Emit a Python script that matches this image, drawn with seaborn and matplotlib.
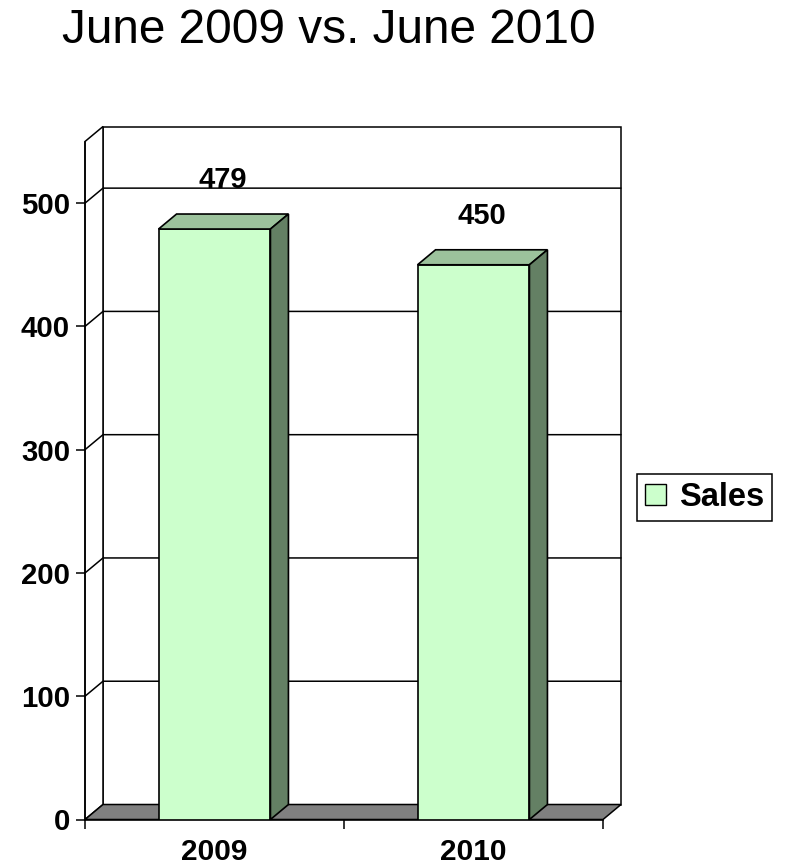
import matplotlib
matplotlib.use('Agg')
import matplotlib.pyplot as plt
from matplotlib.patches import Polygon, Patch
import seaborn as sns
import pandas as pd

# ---- data ----
years = ['2009', '2010']
sales = [479, 450]
y_ticks = [0, 100, 200, 300, 400, 500]
title = 'June 2009 vs. June 2010'
series_name = 'Sales'

sns.set_style('white')
plt.rcParams['font.family'] = ['Liberation Sans', 'DejaVu Sans']
plt.rcParams['text.color'] = 'black'
plt.rcParams['xtick.color'] = 'black'
plt.rcParams['ytick.color'] = 'black'
plt.rcParams['axes.labelcolor'] = 'black'

W, H = 786, 868
fig = plt.figure(figsize=(W / 100, H / 100), dpi=100)
ax = fig.add_axes([85 / W, 1 - 819.5 / H, 518 / W, 678 / H])

front_c = '#CCFFCC'
top_c = '#9CC29C'
side_c = '#648064'
floor_c = '#808080'

df = pd.DataFrame({'Year': years, 'Sales': sales})
sns.barplot(data=df, x='Year', y='Sales', color=front_c, saturation=1,
            width=0.432, edgecolor='black', linewidth=1.2, ax=ax, zorder=3)
bars = list(ax.patches)

YMAX = 550
ax.set_xlim(-0.5, 1.5)
ax.set_ylim(0, YMAX)

# depth of the 3-D effect expressed in data units (18 px right, 15 px up)
dx = 18 / (518 / 2)
dy = 15 / (678 / YMAX)
x0, x1 = -0.5, 1.5

# walls and floor
ax.add_patch(Polygon([(x0 + dx, dy), (x1 + dx, dy), (x1 + dx, YMAX + dy), (x0 + dx, YMAX + dy)],
                     closed=True, fc='white', ec='black', lw=1.1, zorder=0.5, clip_on=False))
ax.add_patch(Polygon([(x0, 0), (x0 + dx, dy), (x0 + dx, YMAX + dy), (x0, YMAX)],
                     closed=True, fc='white', ec='black', lw=1.1, zorder=0.6, clip_on=False))
for v in y_ticks[1:]:
    ax.plot([x0, x0 + dx, x1 + dx], [v, v + dy, v + dy], color='black', lw=1.1,
            zorder=0.8, clip_on=False)
ax.add_patch(Polygon([(x0, 0), (x1, 0), (x1 + dx, dy), (x0 + dx, dy)],
                     closed=True, fc=floor_c, ec='black', lw=1.1, zorder=1, clip_on=False))

# 3-D faces of bars and value labels
for bar, v in zip(bars, sales):
    bx, bw, h = bar.get_x(), bar.get_width(), bar.get_height()
    ax.add_patch(Polygon([(bx, h), (bx + bw, h), (bx + bw + dx, h + dy), (bx + dx, h + dy)],
                         closed=True, fc=top_c, ec='black', lw=1.2, zorder=3, clip_on=False))
    ax.add_patch(Polygon([(bx + bw, 0), (bx + bw + dx, dy), (bx + bw + dx, h + dy), (bx + bw, h)],
                         closed=True, fc=side_c, ec='black', lw=1.2, zorder=3, clip_on=False))
    ax.annotate(f'{v}', xy=(bx + bw / 2 + dx * 0.45, h + dy), xytext=(0, 24.5),
                textcoords='offset points', ha='center', va='center',
                fontsize=21, fontweight='bold', zorder=5, annotation_clip=False)

# axes styling
for s in ['top', 'right']:
    ax.spines[s].set_visible(False)
for s in ['left', 'bottom']:
    ax.spines[s].set_color('black')
    ax.spines[s].set_linewidth(1.1)

ax.set_yticks(y_ticks)
ax.set_yticklabels([str(t) for t in y_ticks], fontweight='bold', fontsize=21.2)
ax.tick_params(axis='y', left=True, length=6.5, width=1.1, pad=4.3, direction='out', color='black')

ax.set_xticks([0, 1])
ax.set_xticklabels(years, fontweight='bold', fontsize=21.5)
ax.set_xticks([-0.5, 0.5, 1.5], minor=True)
ax.tick_params(axis='x', which='major', length=0, pad=13.5)
ax.tick_params(axis='x', which='minor', bottom=True, length=6.5, width=1.1, direction='out', color='black')
ax.set_xlabel('')
ax.set_ylabel('')
ax.grid(False)

# legend
leg = fig.legend(handles=[Patch(fc=front_c, ec='black', lw=1)], labels=[series_name],
                 loc='center left', bbox_to_anchor=(637 / W, 1 - 497.5 / H),
                 bbox_transform=fig.transFigure, frameon=True, fancybox=False,
                 edgecolor='black', framealpha=1, prop={'weight': 'bold', 'size': 23.5},
                 handlelength=0.65, handleheight=0.65, handletextpad=0.38,
                 borderpad=0.25, borderaxespad=0)
leg.get_frame().set_linewidth(1.1)
for t in leg.get_texts():
    t.set_color('black')

fig.text(62.5 / W, 1 - 43 / H, title, fontsize=34.4, va='baseline', ha='left', color='black')

fig.savefig('out.png', dpi=100)
